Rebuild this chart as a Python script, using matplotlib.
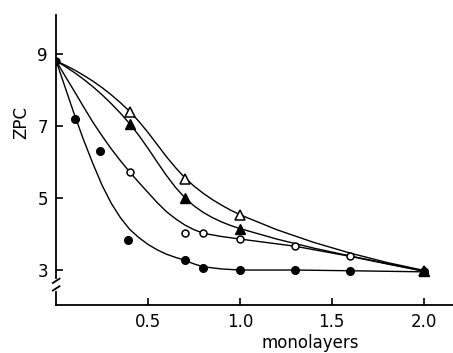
import matplotlib
matplotlib.use("Agg")
import matplotlib.pyplot as plt

# measured points
fc_x = [0.1, 0.24, 0.39, 0.7, 0.8, 1.0, 1.3, 1.6, 2.0]
fc_y = [7.2, 6.3, 3.83, 3.28, 3.07, 3.0, 3.0, 2.98, 2.95]
oc_x = [0.4, 0.7, 0.8, 1.0, 1.3, 1.6, 2.0]
oc_y = [5.72, 4.03, 4.02, 3.86, 3.67, 3.39, 2.97]
ft_x = [0.4, 0.7, 1.0, 2.0]
ft_y = [7.05, 5.0, 4.15, 2.97]
ot_x = [0.4, 0.7, 1.0, 2.0]
ot_y = [7.38, 5.53, 4.53, 2.97]

# hand-drawn fitted curves
fc_cx = [0, 0.05, 0.1, 0.15, 0.2, 0.25, 0.3, 0.35, 0.4, 0.45, 0.5, 0.55, 0.6, 0.65,
         0.7, 0.75, 0.8, 0.9, 1.0, 1.3, 1.6, 2.0]
fc_cy = [8.8, 8.05, 7.3, 6.6, 5.95, 5.35, 4.85, 4.45, 4.13, 3.9, 3.71, 3.56, 3.44, 3.35,
         3.27, 3.17, 3.09, 3.03, 3.0, 3.0, 2.98, 2.95]
oc_cx = [0, 0.05, 0.1, 0.15, 0.2, 0.25, 0.3, 0.35, 0.4, 0.45, 0.5, 0.55, 0.6, 0.65,
         0.7, 0.75, 0.8, 0.9, 1.0, 1.15, 1.3, 1.45, 1.6, 1.8, 2.0]
oc_cy = [8.8, 8.37, 7.95, 7.52, 7.1, 6.72, 6.36, 6.03, 5.72, 5.43, 5.15, 4.87, 4.62, 4.42,
         4.25, 4.12, 4.02, 3.93, 3.86, 3.76, 3.66, 3.52, 3.38, 3.17, 2.97]
ft_cx = [0, 0.05, 0.1, 0.15, 0.2, 0.25, 0.3, 0.35, 0.4, 0.45, 0.5, 0.55, 0.6, 0.65,
         0.7, 0.75, 0.8, 0.85, 0.9, 0.95, 1.0, 1.2, 1.4, 1.6, 1.8, 2.0]
ft_cy = [8.8, 8.645, 8.475, 8.29, 8.085, 7.86, 7.615, 7.35, 7.06, 6.735, 6.375, 5.995,
         5.625, 5.29, 5.01, 4.78, 4.6, 4.455, 4.335, 4.235, 4.15, 3.86, 3.61, 3.39, 3.18, 2.97]
ot_cx = [0, 0.05, 0.1, 0.15, 0.2, 0.25, 0.3, 0.35, 0.4, 0.45, 0.5, 0.55, 0.6, 0.65,
         0.7, 0.75, 0.8, 0.85, 0.9, 0.95, 1.0, 1.2, 1.4, 1.6, 1.8, 2.0]
ot_cy = [8.8, 8.68, 8.55, 8.4, 8.24, 8.06, 7.86, 7.64, 7.4, 7.125, 6.815, 6.48, 6.145,
         5.84, 5.56, 5.33, 5.13, 4.955, 4.8, 4.66, 4.535, 4.12, 3.77, 3.47, 3.21, 2.99]

fig = plt.figure(figsize=(4.53, 3.53), dpi=100)
ax = fig.add_axes([0.124, 0.136, 0.876, 0.822])

for cx, cy in [(fc_cx, fc_cy), (oc_cx, oc_cy), (ft_cx, ft_cy), (ot_cx, ot_cy)]:
    ax.plot(cx, cy, color="black", linewidth=1.0, zorder=2)

# open markers first so the filled ones sit on top where they pile up at 2.0
ax.plot(ot_x, ot_y, "^", markerfacecolor="white", markeredgecolor="black",
        markeredgewidth=1.1, markersize=6.5, zorder=3)
ax.plot(oc_x, oc_y, "o", markerfacecolor="white", markeredgecolor="black",
        markeredgewidth=1.1, markersize=5, zorder=3.1)
ax.plot(ft_x, ft_y, "^", color="black", markersize=6.5, zorder=3.2)
ax.plot(fc_x, fc_y, "o", color="black", markersize=5.5, zorder=3.3)
ax.plot([0], [8.8], "o", color="black", markersize=5, zorder=4)

ax.set_xlim(0, 2.16)
ax.set_ylim(2.03, 10.08)
ax.spines["top"].set_visible(False)
ax.spines["right"].set_visible(False)
ax.spines["left"].set_linewidth(1.3)
ax.spines["bottom"].set_linewidth(1.3)
ax.set_xticks([0.5, 1.0, 1.5, 2.0])
ax.set_xticklabels(["0.5", "1.0", "1.5", "2.0"])
ax.set_yticks([3, 5, 7, 9])
ax.tick_params(direction="in", length=5, width=1.2, labelsize=12, pad=6)

# axis break mark on the y axis
ax.plot([0, 0], [2.47, 2.69], color="white", linewidth=3, clip_on=False, zorder=5)
ax.plot([0.018, -0.018], [2.76, 2.64], color="black", linewidth=1.3,
        clip_on=False, zorder=6)
ax.plot([0.018, -0.018], [2.55, 2.43], color="black", linewidth=1.3,
        clip_on=False, zorder=6)

ax.set_ylabel("ZPC", fontsize=12)
ax.yaxis.set_label_coords(-0.065, 0.63)
ax.set_xlabel("monolayers", fontsize=12, labelpad=0)
ax.xaxis.set_label_coords(0.64, -0.1)

fig.savefig("out.png", dpi=100)
